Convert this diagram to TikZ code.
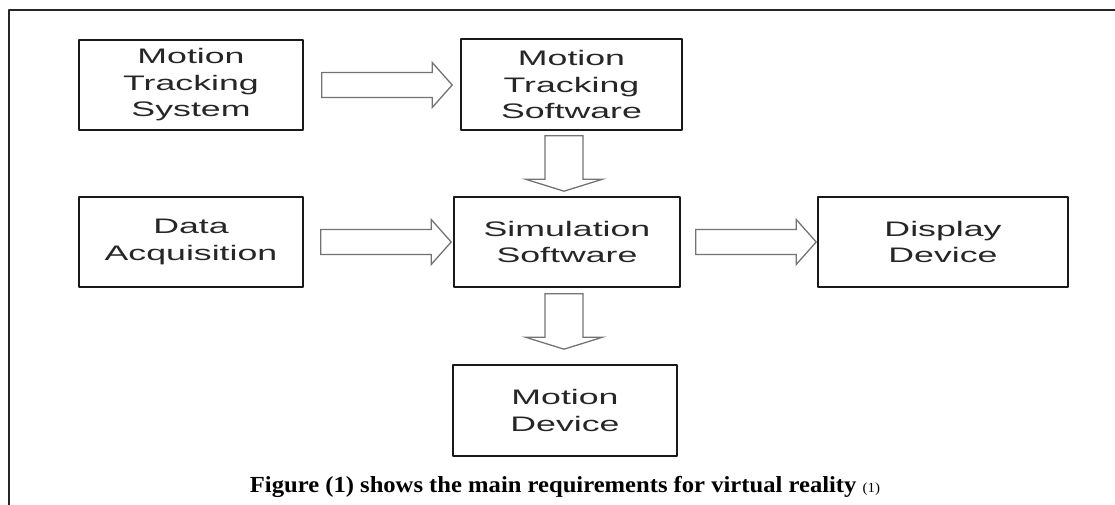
\documentclass[tikz,border=0pt]{standalone}
\usepackage{fontspec}
\usetikzlibrary{calc}
\setmainfont{Liberation Serif}
\newfontfamily\blockfont[FakeStretch=1.7]{Liberation Sans}
\newfontfamily\capfont[FakeStretch=1.07]{Liberation Serif}

\tikzset{
  block/.style={draw=black!90, line width=1.6bp, align=center, inner sep=0pt,
    text=black!85, font=\blockfont\fontsize{21bp}{26.5bp}\selectfont},
  % hollow arrow pointing right, 25bp shaft, 45bp head
  rarrow/.style={draw=black!55, line width=1.3bp, line join=miter,
    to path={let \p1=(\tikztostart), \p2=(\tikztotarget) in
      (\x1,\y1+12.5bp) -- (\x2-20bp,\y1+12.5bp) -- (\x2-20bp,\y1+22.5bp)
      -- (\x2,\y1) -- (\x2-20bp,\y1-22.5bp) -- (\x2-20bp,\y1-12.5bp)
      -- (\x1,\y1-12.5bp) -- cycle}},
  % hollow arrow pointing down, 38bp shaft, 77bp head
  darrow/.style={draw=black!55, line width=1.3bp, line join=miter,
    to path={let \p1=(\tikztostart), \p2=(\tikztotarget) in
      (\x1-19bp,\y1) -- (\x1-19bp,\y2+12bp) -- (\x1-38.5bp,\y2+12bp)
      -- (\x1,\y2) -- (\x1+38.5bp,\y2+12bp) -- (\x1+19bp,\y2+12bp)
      -- (\x1+19bp,\y1) -- cycle}},
}

\begin{document}
\begin{tikzpicture}[line join=bevel]
  \useasboundingbox (0bp,0bp) rectangle (1115bp,505bp);
  %% frame
  \draw [line width=1.6bp, black!85] (9bp,0bp) -- (9bp,495bp) -- (1115bp,495bp);
  % Node: mts
  \node [block, minimum width=224bp, minimum height=90bp] (mts) at (191bp,420bp)
    {Motion\\Tracking\\System};
  % Node: mtsw
  \node [block, minimum width=221bp, minimum height=91bp] (mtsw) at (571.5bp,420.5bp)
    {Motion\\Tracking\\Software};
  % Node: acq
  \node [block, minimum width=224bp, minimum height=90bp] (acq) at (191bp,263bp)
    {Data\\Acquisition};
  % Node: sim
  \node [block, minimum width=226bp, minimum height=90bp] (sim) at (567bp,263bp)
    {Simulation\\Software};
  % Node: disp
  \node [block, minimum width=250bp, minimum height=90bp] (disp) at (943bp,263bp)
    {Display\\Device};
  % Node: mdev
  \node [block, minimum width=224bp, minimum height=91bp] (mdev) at (565bp,94.5bp)
    {Motion\\Device};
  % Edge: mts -> mtsw
  \draw [rarrow] ($(mts.east)+(18bp,0)$) to ($(mtsw.west)+(-8bp,0)$);
  % Edge: acq -> sim
  \draw [rarrow] ($(acq.east)+(17bp,0)$) to ($(sim.west)+(-2bp,0)$);
  % Edge: sim -> disp
  \draw [rarrow] ($(sim.east)+(15bp,0)$) to ($(disp.west)+(-1bp,0)$);
  % Edge: mtsw -> sim
  \draw [darrow] ($(mtsw.south)+(-7.5bp,-5bp)$) to ($(sim.north)+(-3bp,5bp)$);
  % Edge: sim -> mdev
  \draw [darrow] ($(sim.south)+(-3bp,-6bp)$) to ($(mdev.north)+(-1bp,15bp)$);
  % caption
  \node (cap) at (565bp,18bp) {\capfont\fontsize{23bp}{26bp}\selectfont\bfseries
    Figure (1) shows the main requirements for virtual reality
    {\mdseries\fontsize{14bp}{16bp}\selectfont (1)}};
\end{tikzpicture}
\end{document}
